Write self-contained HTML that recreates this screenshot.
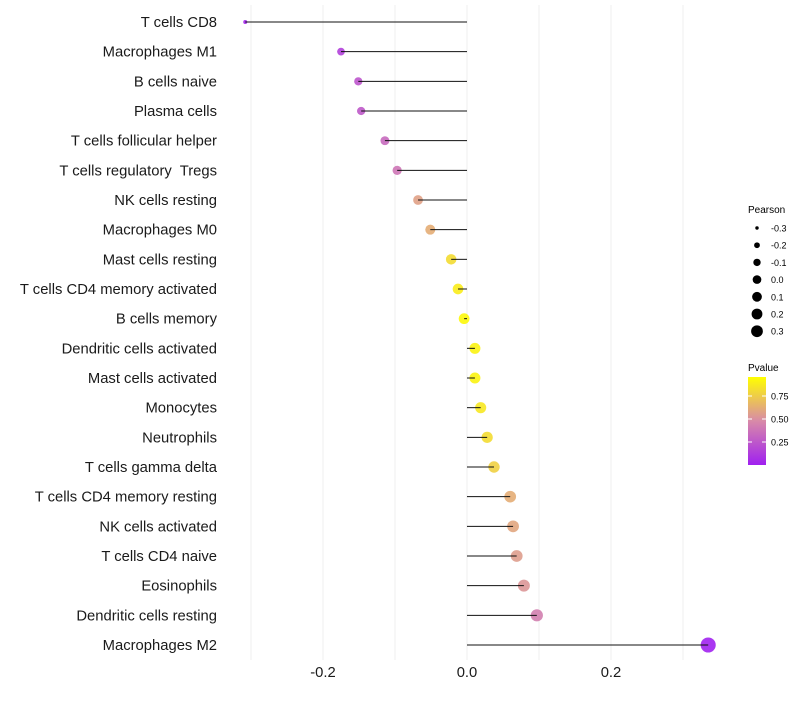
<!DOCTYPE html>
<html><head><meta charset="utf-8"><style>
body{margin:0;background:#fff;font-family:"Liberation Sans",sans-serif}
</style></head><body>
<svg id="c" width="800" height="700" font-family="Liberation Sans, sans-serif"></svg>
<script>
const categories=["T cells CD8","Macrophages M1","B cells naive","Plasma cells","T cells follicular helper","T cells regulatory  Tregs","NK cells resting","Macrophages M0","Mast cells resting","T cells CD4 memory activated","B cells memory","Dendritic cells activated","Mast cells activated","Monocytes","Neutrophils","T cells gamma delta","T cells CD4 memory resting","NK cells activated","T cells CD4 naive","Eosinophils","Dendritic cells resting","Macrophages M2"];
const pearson=[-0.308,-0.175,-0.151,-0.147,-0.114,-0.097,-0.068,-0.051,-0.022,-0.0125,-0.004,0.011,0.011,0.019,0.028,0.0375,0.06,0.064,0.069,0.079,0.097,0.335];
const pvalue=[0.03,0.15,0.25,0.27,0.35,0.4,0.6,0.65,0.85,0.92,0.97,0.95,0.95,0.9,0.85,0.8,0.65,0.62,0.58,0.55,0.45,0.01];
const xTicks=[-0.2,0,0.2];
const xTickLabels=["-0.2","0.0","0.2"];
const sizeLegend=[-0.3,-0.2,-0.1,0.0,0.1,0.2,0.3];
const pLegend=[0.25,0.5,0.75];
const NS="http://www.w3.org/2000/svg",svg=document.getElementById('c');
function el(t,a,p){const e=document.createElementNS(NS,t);for(const k in a)e.setAttribute(k,a[k]);(p||svg).appendChild(e);return e;}
const x=v=>467+v*720;
const y=i=>22+i*(623/(categories.length-1));
const r=v=>Math.sqrt(Math.max(1,29.3+82*v));
function lerp(a,b,t){return a.map((c,i)=>Math.round(c+(b[i]-c)*t));}
function col(p){const s=[[160,32,240],[216,138,168],[255,255,0]];const c=p<0.5?lerp(s[0],s[1],p/0.5):lerp(s[1],s[2],(p-0.5)/0.5);return `rgb(${c})`;}
for(let g=-0.3;g<=0.31;g+=0.1){const l=el('line',{x1:x(g),x2:x(g),y1:5,y2:660,stroke:'#efefef','stroke-width':1});
}
categories.forEach((c,i)=>{
 const t=el('text',{x:217,y:y(i)+5,'text-anchor':'end','font-size':14.8,fill:'#1a1a1a',style:'white-space:pre'});t.textContent=c;
 
 const ci=el('circle',{cx:x(pearson[i]),cy:y(i),r:r(pearson[i]),fill:col(pvalue[i]),'fill-opacity':0.9});
 
 const s=el('line',{x1:x(0),x2:x(pearson[i]),y1:y(i),y2:y(i),stroke:'#111','stroke-width':1});
 
});
xTicks.forEach((v,i)=>{const t=el('text',{x:x(v),y:677,'text-anchor':'middle','font-size':14.8,fill:'#1a1a1a'});t.textContent=xTickLabels[i];
});
let t=el('text',{x:748,y:213,'font-size':10});t.textContent='Pearson';

sizeLegend.forEach((v,i)=>{const yy=228+i*17.2;const c=el('circle',{cx:757,cy:yy,r:r(v)*0.8,fill:'#000'});

const tt=el('text',{x:771,y:yy+3.5,'font-size':9});tt.textContent=v.toFixed(1);
});
t=el('text',{x:748,y:371,'font-size':10});t.textContent='Pvalue';

const d=el('defs',{});const lg=el('linearGradient',{id:'g',x1:0,y1:1,x2:0,y2:0},d);
[0,0.5,1].forEach(o=>el('stop',{offset:o,'stop-color':col(o)},lg));
const bar=el('rect',{x:748,y:377,width:18,height:88,fill:'url(#g)'});

pLegend.forEach(p=>{const yy=465-p*92;el('line',{x1:748,x2:752,y1:yy,y2:yy,stroke:'#fff'});el('line',{x1:762,x2:766,y1:yy,y2:yy,stroke:'#fff'});
const tt=el('text',{x:771,y:yy+3.5,'font-size':9});tt.textContent=p.toFixed(2);
});
</script>
</body></html>
